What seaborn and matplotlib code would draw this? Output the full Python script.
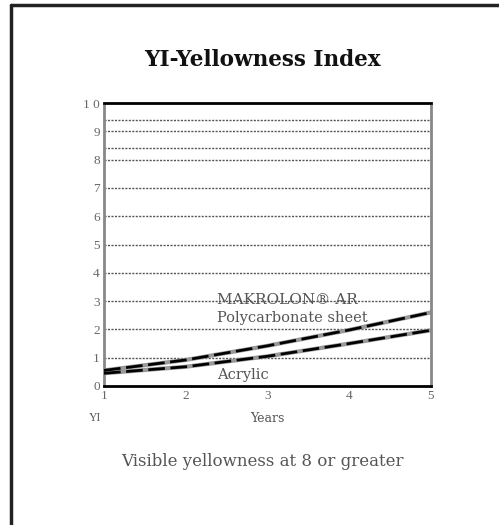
import matplotlib
matplotlib.use("Agg")
import matplotlib.pyplot as plt
from matplotlib.lines import Line2D
import seaborn as sns
import pandas as pd

years = [1, 2, 3, 4, 5]
makrolon = [0.55, 0.92, 1.42, 1.98, 2.6]
acrylic = [0.45, 0.68, 1.05, 1.5, 1.97]
y_ticks = list(range(0, 11))
y_tick_labels = ["0", "1", "2", "3", "4", "5", "6", "7", "8", "9", "1 0"]
x_ticks = [1, 2, 3, 4, 5]
grid_levels = [1, 2, 3, 4, 5, 6, 7, 8, 8.4, 9, 9.4]

sns.set_style("white")
plt.rcParams['font.family'] = ['Liberation Serif', 'DejaVu Serif']
WIDE = ['DejaVu Serif', 'Liberation Serif']

df = pd.DataFrame({
    "Years": years * 2,
    "YI": makrolon + acrylic,
    "series": ["MAKROLON"] * len(years) + ["Acrylic"] * len(years),
})

fig = plt.figure(figsize=(4.99, 5.25), dpi=100)
ax = fig.add_axes([104 / 499, 1 - 386 / 525, 327 / 499, 283 / 525])

for g in grid_levels:
    ax.axhline(g, color="#555555", lw=1.0, ls=(0, (1.5, 1)), zorder=1)

sns.lineplot(data=df, x="Years", y="YI", hue="series", palette=["#999999", "#999999"],
             lw=3, legend=False, ax=ax, zorder=2)
sns.lineplot(data=df, x="Years", y="YI", hue="series", palette=["black", "black"],
             lw=2, legend=False, ax=ax, zorder=3)
for line in ax.get_lines()[-2:]:
    line.set_dashes((6, 2))

ax.set_xlim(1, 5)
ax.set_ylim(0, 10)
ax.set_xticks(x_ticks)
ax.set_xticklabels([str(v) for v in x_ticks])
ax.set_yticks(y_ticks)
ax.set_yticklabels(y_tick_labels)
ax.tick_params(axis="both", length=0, labelsize=9.5, colors="#666666", pad=3)
ax.set_xlabel("")
ax.set_ylabel("")

for side in ["top", "bottom"]:
    ax.spines[side].set_color("black")
    ax.spines[side].set_linewidth(2)
for side in ["left", "right"]:
    ax.spines[side].set_color("#888888")
    ax.spines[side].set_linewidth(2)
    ax.spines[side].set_linestyle((0, (1, 1)))

ax.text(2.38, 3.05, "MAKROLON® AR", fontsize=11, family=WIDE, color="#555555",
        ha="left", va="center", zorder=4)
ax.text(2.38, 2.4, "Polycarbonate sheet", fontsize=10.5, family=WIDE, color="#555555",
        ha="left", va="center", zorder=4)
ax.text(2.38, 0.4, "Acrylic", fontsize=10.5, family=WIDE, color="#555555",
        ha="left", va="center", zorder=4)

fig.text(262 / 499, 1 - 60 / 525, "YI-Yellowness Index", fontsize=15.5, fontweight="bold",
         family=WIDE, ha="center", va="center", color="#111111")
fig.text(95 / 499, 1 - 418 / 525, "YI", fontsize=8.5, ha="center", va="center", color="#555555")
fig.text(267 / 499, 1 - 418 / 525, "Years", fontsize=9, family=WIDE, ha="center", va="center",
         color="#555555")
fig.text(262 / 499, 1 - 462 / 525, "Visible yellowness at 8 or greater", fontsize=12,
         family=WIDE, ha="center", va="center", color="#555555")

fig.add_artist(Line2D([11 / 499, 11 / 499], [0, 1 - 5 / 525], transform=fig.transFigure,
                      color="#222222", lw=2.5))
fig.add_artist(Line2D([11 / 499, 1], [1 - 5 / 525, 1 - 5 / 525], transform=fig.transFigure,
                      color="#222222", lw=2.5))

fig.savefig("out.png", dpi=100)
